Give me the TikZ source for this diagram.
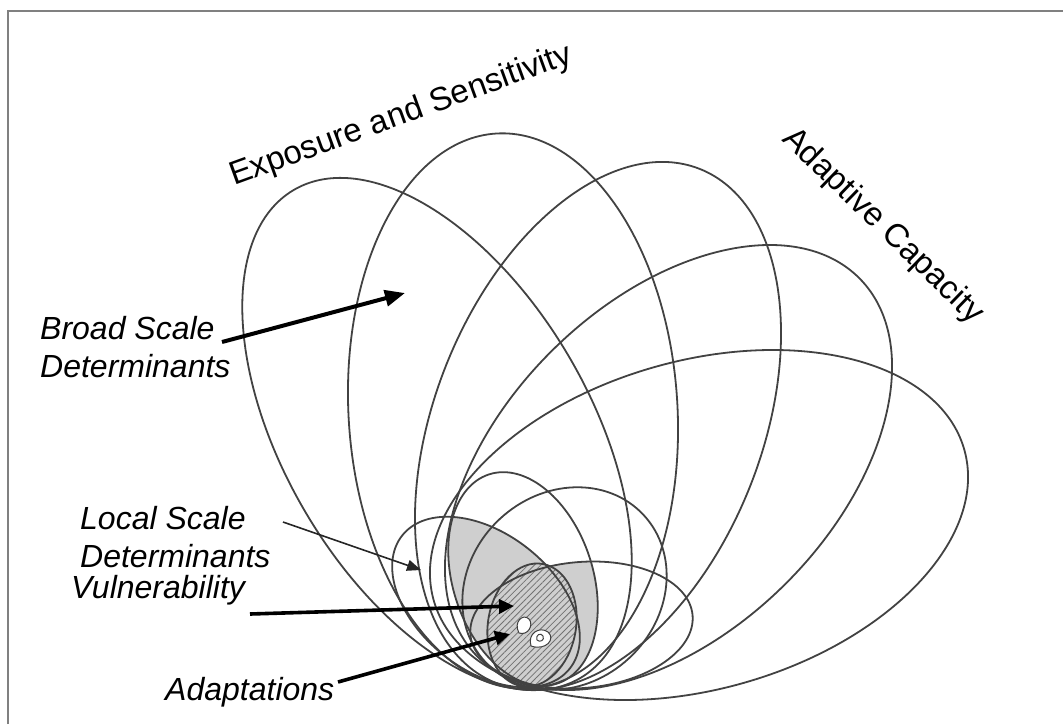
\documentclass[tikz,border=0pt]{standalone}
\usepackage{fontspec}
\setmainfont{Liberation Sans}
\usetikzlibrary{arrows.meta,patterns.meta}

\begin{document}
\begin{tikzpicture}[x=1pt,y=-1pt,
  rim/.style={draw=black!74, line width=1.8pt},
  framing/.style={draw=black!50, line width=2pt},
  shade1/.style={fill=black!19},
  blob/.style={draw=black!75, line width=1pt, fill=white},
  lab/.style={font=\fontsize{32}{38}\selectfont\itshape, inner sep=0pt, align=left, anchor=base west},
  head/.style={font=\fontsize{33}{40}\selectfont, inner sep=0pt, anchor=base west},
  bigarrow/.style={line width=4pt, -{Triangle[length=20pt,width=16pt]}},
  midarrow/.style={line width=3.6pt, -{Triangle[length=15pt,width=14pt]}},
  thinarrow/.style={draw=black!85, line width=1.6pt, -{Triangle[length=14pt,width=11pt]}}
]
\useasboundingbox (0,0) rectangle (1063,724);

% frame (top and left edges only)
\draw[framing] (8,724) -- (8,10.5) -- (1063,10.5);

% shaded overlap of the local-scale ellipses
\begin{scope}
  \clip[rotate around={108:(523,579)}] (523,579) ellipse [x radius=110pt, y radius=70pt];
  \fill[shade1, rotate around={141.5:(486,602)}] (486,602) ellipse [x radius=107pt, y radius=68pt];
  \fill[shade1, rotate around={5:(581.5,625)}] (581.5,625) ellipse [x radius=111.5pt, y radius=63pt];
\end{scope}

% hatched core
\fill[black!19, rotate around={80:(532,625)}] (532,625) ellipse [x radius=62pt, y radius=44pt];
\fill[pattern={Lines[angle=45,distance=4.5pt,line width=0.8pt]}, pattern color=black!55,
      rotate around={80:(532,625)}] (532,625) ellipse [x radius=62pt, y radius=44pt];

% broad-scale ellipses
\draw[rim, rotate around={120.4:(437,434)}] (437,434) ellipse [x radius=283pt, y radius=153pt];
\draw[rim, rotate around={93.4:(513,411)}] (513,411) ellipse [x radius=278pt, y radius=164.5pt];
\draw[rim, rotate around={68.4:(598,426)}] (598,426) ellipse [x radius=276.5pt, y radius=163.6pt];
\draw[rim, rotate around={44.7:(668.5,467.5)}] (668.5,467.5) ellipse [x radius=268.8pt, y radius=165pt];
\draw[rim, rotate around={15.9:(699,525)}] (699,525) ellipse [x radius=275.8pt, y radius=164.1pt];

% local-scale ellipses
\draw[rim, rotate around={141.5:(486,602)}] (486,602) ellipse [x radius=107pt, y radius=68pt];
\draw[rim, rotate around={108:(523,579)}] (523,579) ellipse [x radius=110pt, y radius=70pt];
\draw[rim, rotate around={43:(564.5,588.5)}] (564.5,588.5) ellipse [x radius=108pt, y radius=95pt];
\draw[rim, rotate around={5:(581.5,625)}] (581.5,625) ellipse [x radius=111.5pt, y radius=63pt];
\draw[rim, rotate around={80:(532,625)}] (532,625) ellipse [x radius=62pt, y radius=44pt];

% adaptations
\draw[blob] (519,633) .. controls (513,622) and (523,613) .. (529,619) .. controls (534,625) and (528,636) .. cycle;
\draw[blob] (531,646) .. controls (527,633) and (540,626) .. (548,632) .. controls (556,639) and (546,651) .. cycle;
\draw[blob] (537,640) .. controls (535,635) and (541,632) .. (543,636) .. controls (545,640) and (540,643) .. cycle;

% headings
\node[head, rotate=20] (es) at (234,186) {Exposure and Sensitivity};
\node[head, rotate=-44] (ac) at (781,140) {Adaptive Capacity};

% labels (anchored at the baseline of their last line)
\node[lab] (bsd) at (40,377) {Broad Scale\\Determinants};
\node[lab] (lsd) at (80,567) {Local Scale\\Determinants};
\node[lab] (vul) at (71,598) {Vulnerability};
\node[lab] (ada) at (165,700) {Adaptations};

% arrow end points
\coordinate (bsd-tail) at (222,342);
\coordinate (bsd-tip) at (405,293);
\coordinate (lsd-tail) at (283,522);
\coordinate (lsd-tip) at (421,570);
\coordinate (vul-tail) at (250,614);
\coordinate (vul-tip) at (514,606);
\coordinate (ada-tail) at (338,682);
\coordinate (ada-tip) at (510,634);

\draw[bigarrow] (bsd-tail) -- (bsd-tip);
\draw[thinarrow] (lsd-tail) -- (lsd-tip);
\draw[midarrow] (vul-tail) -- (vul-tip);
\draw[midarrow] (ada-tail) -- (ada-tip);
\end{tikzpicture}
\end{document}
